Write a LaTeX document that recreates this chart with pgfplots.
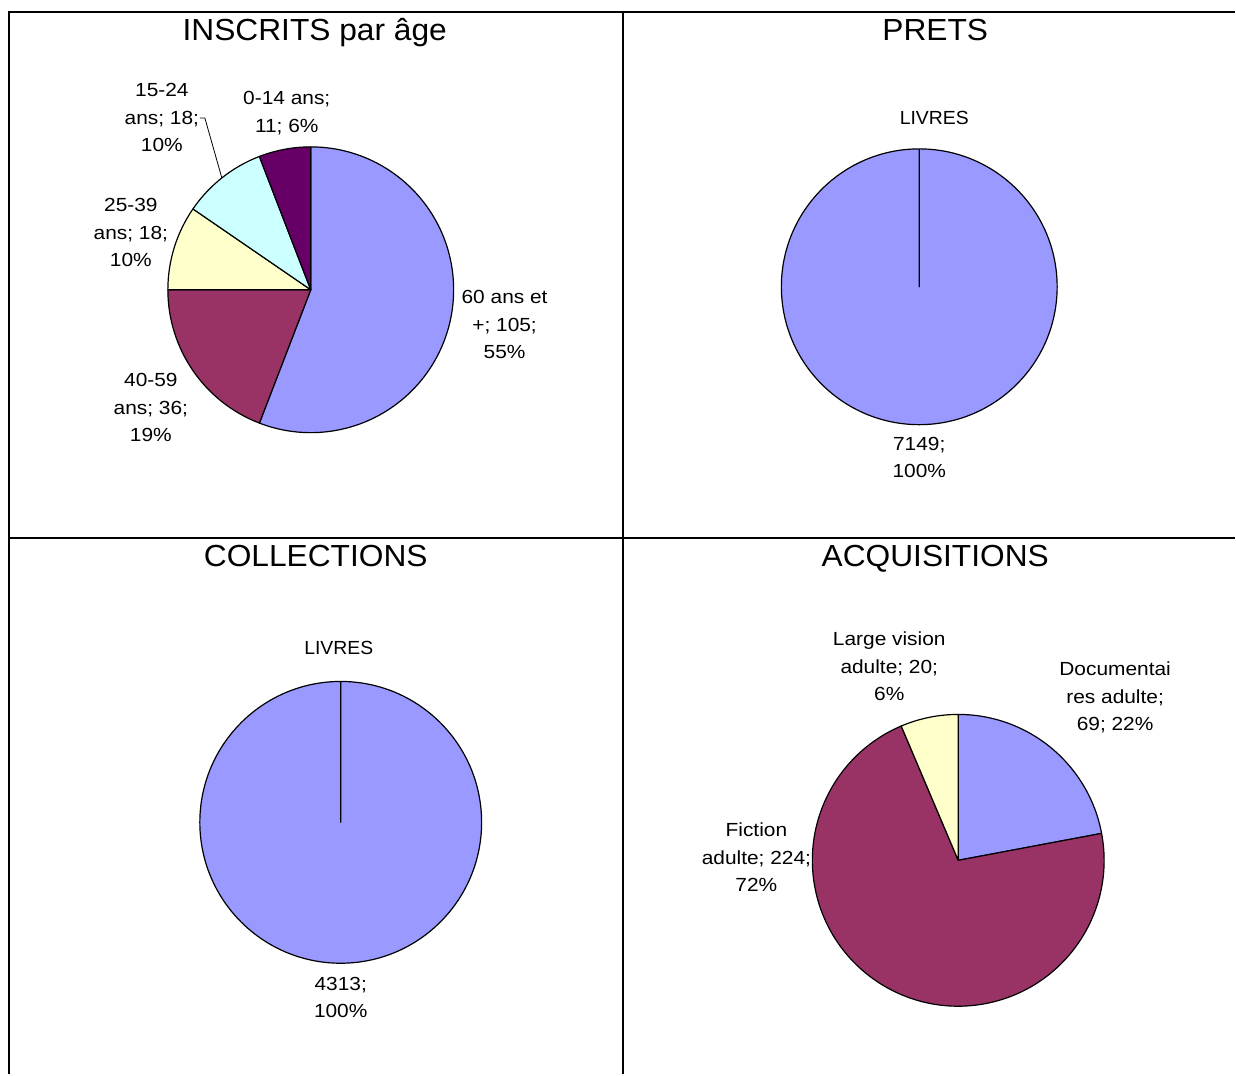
\documentclass[border=0pt]{standalone}
\usepackage{pgfplots}
\pgfplotsset{compat=1.18}
\usepackage{fontspec}
\setmainfont{Liberation Sans}
\newfontfamily\labfont[FakeStretch=1.1]{Liberation Sans}
\newfontfamily\livfont[FakeStretch=1.02]{Liberation Sans}
\newfontfamily\ttlfont[FakeStretch=1.04]{Liberation Sans}
\definecolor{cA}{HTML}{9999FF}
\definecolor{cB}{HTML}{993366}
\definecolor{cC}{HTML}{FFFFCC}
\definecolor{cD}{HTML}{CCFFFF}
\definecolor{cE}{HTML}{660066}
% #1 cx, #2 cy, #3 radius, #4 list value/colour (clockwise from 12 o'clock)
\newcommand\pie[4]{%
  \gdef\pietot{0}%
  \foreach \v/\col in {#4}{\pgfmathsetmacro\tmp{\pietot+\v}\xdef\pietot{\tmp}}%
  \gdef\piestart{90}%
  \foreach \v/\col in {#4}{%
    \pgfmathsetmacro\pieend{\piestart-\v/\pietot*360}%
    \edef\cmd{\noexpand\filldraw[fill=\col,draw=black,line width=1.2pt,line join=round]
      (axis cs:#1,#2) -- ++(\piestart:#3pt) arc[start angle=\piestart,end angle=\pieend,radius=#3pt] -- cycle;}%
    \cmd
    \xdef\piestart{\pieend}%
  }%
}
\newcommand\lab{\labfont\fontsize{19}{27.5}\selectfont}
\newcommand\liv{\livfont\fontsize{19}{27.5}\selectfont}
\newcommand\ttl{\ttlfont\fontsize{30.5}{34}\selectfont}
\begin{document}
\begin{tikzpicture}
\begin{axis}[scale only axis, width=1236pt, height=1075pt,
  xmin=0, xmax=1236, ymin=0, ymax=1075, y dir=reverse, hide axis, clip=false]
\path (axis cs:0,0) rectangle (axis cs:1236,1075);
% frame
\draw[line width=2pt] (axis cs:9,1075) -- (axis cs:9,12) -- (axis cs:1236,12);
\draw[line width=2pt] (axis cs:623,12) -- (axis cs:623,1075);
\draw[line width=2pt] (axis cs:9,538) -- (axis cs:1236,538);
% titles
\node[font=\ttl,anchor=base] at (axis cs:315,41) {INSCRITS par âge};
\node[font=\ttl,anchor=base] at (axis cs:936,41) {PRETS};
\node[font=\ttl,anchor=base] at (axis cs:316,567) {COLLECTIONS};
\node[font=\ttl,anchor=base] at (axis cs:936,567) {ACQUISITIONS};
% INSCRITS
\pie{311}{290}{143}{105/cA,36/cB,18/cC,18/cD,11/cE}
\node[font=\lab,align=center] at (axis cs:287,113) {0-14 ans;\\11; 6\%};
\node[font=\lab,align=center] at (axis cs:162,118) {15-24\\ans; 18;\\10\%};
\draw[line width=0.8pt] (axis cs:200,118) -- (axis cs:205,118) -- (axis cs:222,178);
\node[font=\lab,align=center] at (axis cs:131,233) {25-39\\ans; 18;\\10\%};
\node[font=\lab,align=center] at (axis cs:151,408) {40-59\\ans; 36;\\19\%};
\node[font=\lab,align=center] at (axis cs:505,325) {60 ans et\\+; 105;\\55\%};
% PRETS
\pie{920}{287}{138}{7149/cA}
\node[font=\liv] at (axis cs:935,118) {LIVRES};
\node[font=\lab,align=center] at (axis cs:920,458) {7149;\\100\%};
% COLLECTIONS
\pie{341}{823}{141}{4313/cA}
\node[font=\liv] at (axis cs:339,648) {LIVRES};
\node[font=\lab,align=center] at (axis cs:341,998) {4313;\\100\%};
% ACQUISITIONS
\pie{959}{861}{146}{69/cA,224/cB,20/cC}
\node[font=\lab,align=center] at (axis cs:890,667) {Large vision\\adulte; 20;\\6\%};
\node[font=\lab,align=center] at (axis cs:1116,698) {Documentai\\res adulte;\\69; 22\%};
\node[font=\lab,align=center] at (axis cs:757,858) {Fiction\\adulte; 224;\\72\%};
\end{axis}
\end{tikzpicture}
\end{document}
